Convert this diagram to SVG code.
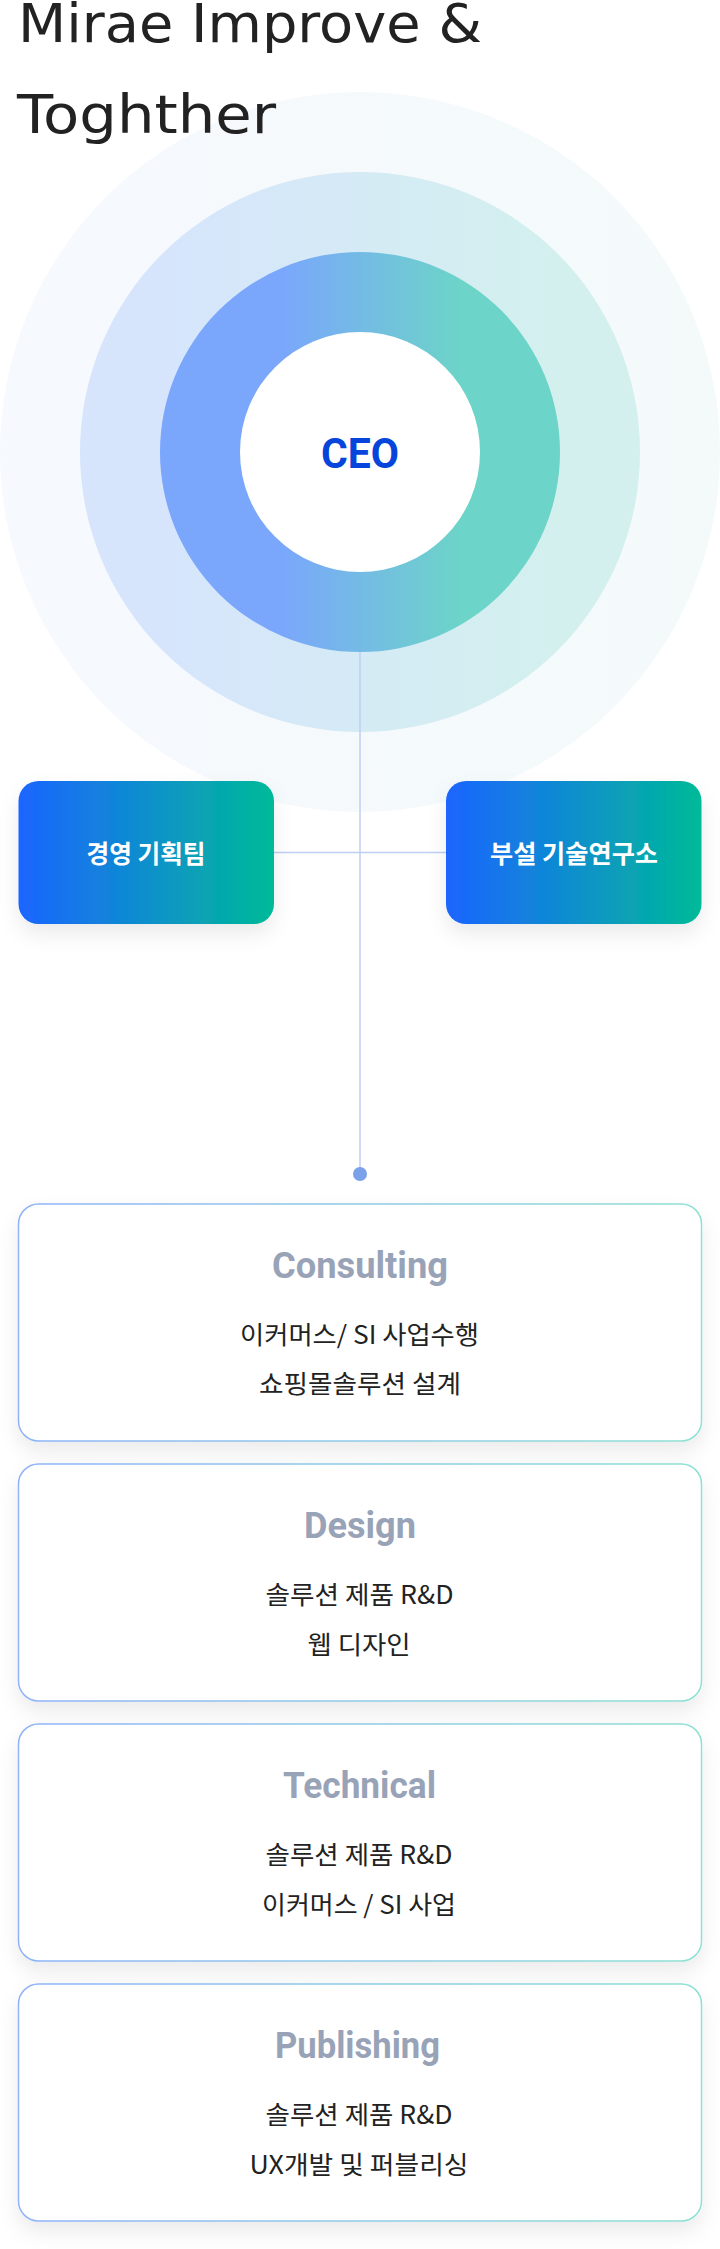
<svg xmlns="http://www.w3.org/2000/svg" width="720" height="2249" viewBox="0 0 720 2249">
<defs>
<linearGradient id="gOuter" x1="0" y1="0" x2="1" y2="0">
<stop offset="0" stop-color="#f6f9fe"/><stop offset="1" stop-color="#f4fafa"/>
</linearGradient>
<linearGradient id="gMid" x1="0" y1="0" x2="1" y2="0">
<stop offset="0.15" stop-color="#d6e5fc"/><stop offset="0.85" stop-color="#d3f0ee"/>
</linearGradient>
<linearGradient id="gInner" x1="0" y1="0" x2="1" y2="0">
<stop offset="0.3" stop-color="#7aa6fc"/><stop offset="0.75" stop-color="#6cd4c8"/>
</linearGradient>
<linearGradient id="gBox" x1="0" y1="0" x2="1" y2="0">
<stop offset="0" stop-color="#1b65ff"/><stop offset="1" stop-color="#00ba98"/>
</linearGradient>
<linearGradient id="gBorder" x1="0" y1="0" x2="1" y2="0">
<stop offset="0" stop-color="#8fb3f9"/><stop offset="1" stop-color="#8ee0d3"/>
</linearGradient>
<filter id="shadow" x="-10%" y="-20%" width="120%" height="150%">
<feDropShadow dx="0" dy="10" stdDeviation="10" flood-color="#000" flood-opacity="0.08"/>
</filter>
<style>
.title{font-family:"DejaVu Sans","Liberation Sans",sans-serif;font-size:54px;fill:#222;}
.ceo{font-family:Roboto,"Liberation Sans",sans-serif;font-weight:700;font-size:42px;fill:#0645dc;}
.box{fill:url(#gBox);filter:url(#shadow);}
.boxlbl{font-family:"Noto Sans CJK KR","Noto Sans",sans-serif;font-weight:700;font-size:25px;fill:#fff;}
.card{fill:#fff;stroke:url(#gBorder);stroke-width:1.5;filter:url(#shadow);}
.ctitle{font-family:Roboto,"Liberation Sans",sans-serif;font-weight:700;font-size:36px;fill:#98a3b7;}
.ctext{font-family:"Noto Sans CJK KR","Noto Sans",sans-serif;font-weight:400;font-size:25px;fill:#222;}
.line{stroke:#bfcff4;stroke-width:1.5;fill:none;}
</style>
</defs>
<rect width="720" height="2249" fill="#fff"/>

<g id="circles">
<circle cx="360" cy="452" r="360" fill="url(#gOuter)"/>
<circle cx="360" cy="452" r="280" fill="url(#gMid)"/>
</g>

<g id="connectors">
<line class="line" x1="360" y1="640" x2="360" y2="1174"/>
<line class="line" x1="274" y1="852.5" x2="446" y2="852.5"/>
<circle cx="360" cy="1174" r="7" fill="#7ba1ea"/>
</g>

<g id="ceo">
<circle cx="360" cy="452" r="200" fill="url(#gInner)"/>
<circle cx="360" cy="452" r="120" fill="#fff"/>
<text class="ceo" x="360" y="467.5" text-anchor="middle" textLength="78" lengthAdjust="spacingAndGlyphs">CEO</text>
</g>

<g id="heading">
<text class="title" x="18" y="42" textLength="464" lengthAdjust="spacingAndGlyphs">Mirae Improve &amp;</text>
<text class="title" x="17" y="133" textLength="259" lengthAdjust="spacingAndGlyphs">Toghther</text>
</g>

<g id="node-planning">
<rect class="box" x="18.5" y="781" width="255.5" height="143" rx="20"/>
<text class="boxlbl" x="146" y="863" text-anchor="middle" textLength="119" lengthAdjust="spacingAndGlyphs">경영 기획팀</text>
</g>

<g id="node-lab">
<rect class="box" x="446" y="781" width="255.5" height="143" rx="20"/>
<text class="boxlbl" x="574" y="863" text-anchor="middle" textLength="168" lengthAdjust="spacingAndGlyphs">부설 기술연구소</text>
</g>

<g id="node-consulting">
<rect class="card" x="18.5" y="1204" width="683" height="237" rx="20"/>
<text class="ctitle" x="360" y="1277.5" text-anchor="middle" textLength="176" lengthAdjust="spacingAndGlyphs">Consulting</text>
<text class="ctext" x="359.5" y="1344" text-anchor="middle" textLength="239" lengthAdjust="spacingAndGlyphs">이커머스/ SI 사업수행</text>
<text class="ctext" x="360" y="1393" text-anchor="middle" textLength="202" lengthAdjust="spacingAndGlyphs">쇼핑몰솔루션 설계</text>
</g>

<g id="node-design">
<rect class="card" x="18.5" y="1464" width="683" height="237" rx="20"/>
<text class="ctitle" x="360" y="1537.5" text-anchor="middle" textLength="112" lengthAdjust="spacingAndGlyphs">Design</text>
<text class="ctext" x="359.5" y="1604" text-anchor="middle" textLength="188" lengthAdjust="spacingAndGlyphs">솔루션 제품 R&amp;D</text>
<text class="ctext" x="359" y="1654" text-anchor="middle" textLength="103" lengthAdjust="spacingAndGlyphs">웹 디자인</text>
</g>

<g id="node-technical">
<rect class="card" x="18.5" y="1724" width="683" height="237" rx="20"/>
<text class="ctitle" x="359.5" y="1797.5" text-anchor="middle" textLength="153" lengthAdjust="spacingAndGlyphs">Technical</text>
<text class="ctext" x="359" y="1864" text-anchor="middle" textLength="187" lengthAdjust="spacingAndGlyphs">솔루션 제품 R&amp;D</text>
<text class="ctext" x="359" y="1914" text-anchor="middle" textLength="194" lengthAdjust="spacingAndGlyphs">이커머스 / SI 사업</text>
</g>

<g id="node-publishing">
<rect class="card" x="18.5" y="1984" width="683" height="237" rx="20"/>
<text class="ctitle" x="357.5" y="2057.5" text-anchor="middle" textLength="165" lengthAdjust="spacingAndGlyphs">Publishing</text>
<text class="ctext" x="359" y="2124" text-anchor="middle" textLength="187" lengthAdjust="spacingAndGlyphs">솔루션 제품 R&amp;D</text>
<text class="ctext" x="359" y="2174" text-anchor="middle" textLength="219" lengthAdjust="spacingAndGlyphs">UX개발 및 퍼블리싱</text>
</g>
</svg>
